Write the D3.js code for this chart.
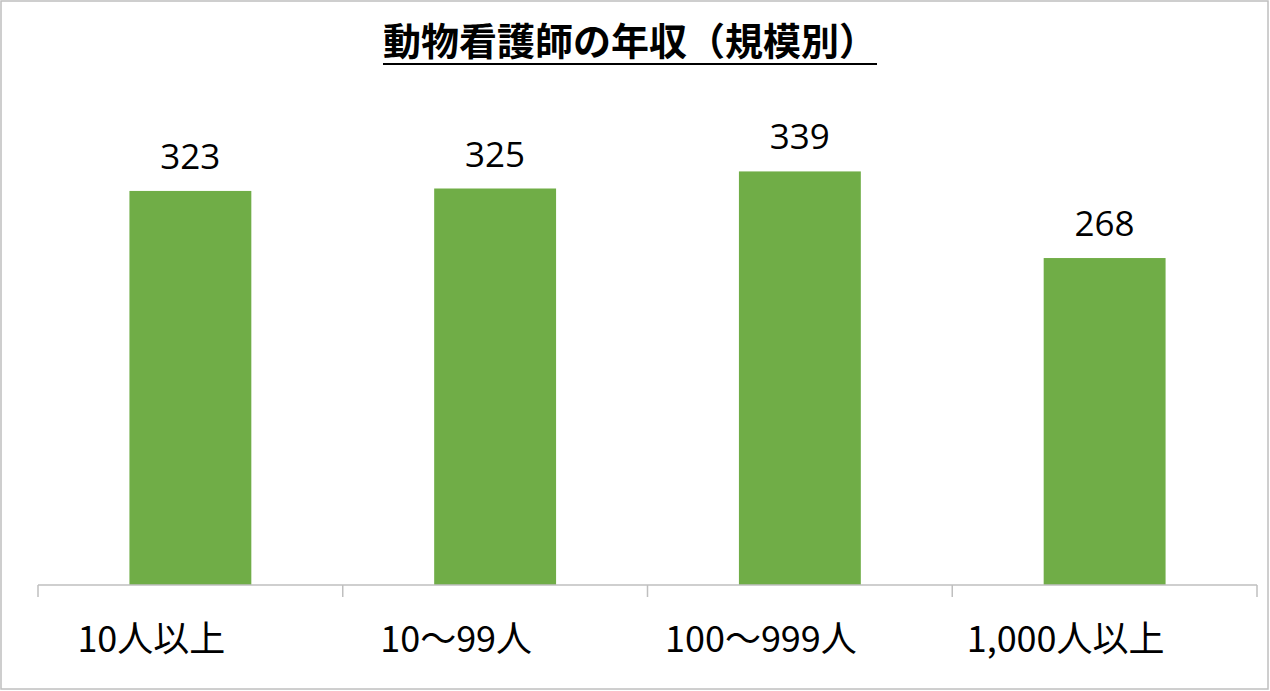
<!DOCTYPE html>
<html>
<head>
<meta charset="utf-8">
<script src="https://cdn.jsdelivr.net/npm/d3@7"></script>
<style>
  html, body { margin: 0; padding: 0; background: #fff; }
  svg { display: block; }
</style>
</head>
<body>
<div id="chart"></div>
<script>
// data
var categories = ["10人以上", "10～99人", "100～999人", "1,000人以上"];
var salaries = [323, 325, 339, 268];
var chartTitle = "動物看護師の年収（規模別）";

var svgWidth = 1270, svgHeight = 691;
var jpFont = "'Noto Sans CJK JP', 'Noto Sans', sans-serif";

var svg = d3.select("#chart").append("svg")
    .attr("width", svgWidth)
    .attr("height", svgHeight);

// outer frame
svg.append("rect")
    .attr("x", 1).attr("y", 1)
    .attr("width", svgWidth - 3).attr("height", svgHeight - 3)
    .attr("fill", "#fff")
    .attr("stroke", "#bfbfbf")
    .attr("stroke-width", 1.5);

// scales
var x = d3.scaleBand()
    .domain(categories)
    .range([38, 1257])
    .paddingInner(0)
    .paddingOuter(0);

var y = d3.scaleLinear()
    .domain([0, 400])
    .range([585, 97]);

var barWidth = x.bandwidth() * 0.4;

// bars
svg.selectAll("rect.bar")
    .data(salaries)
    .enter().append("rect")
    .attr("class", "bar")
    .attr("x", function(d, i) { return x(categories[i]) + (x.bandwidth() - barWidth) / 2; })
    .attr("y", function(d) { return y(d); })
    .attr("width", barWidth)
    .attr("height", function(d) { return y(0) - y(d); })
    .attr("fill", "#70ad47");

// value labels
svg.selectAll("text.val")
    .data(salaries)
    .enter().append("text")
    .attr("class", "val")
    .attr("x", function(d, i) { return x(categories[i]) + x.bandwidth() / 2; })
    .attr("y", function(d) { return y(d) - 22; })
    .attr("text-anchor", "middle")
    .attr("font-family", "'Open Sans', 'Noto Sans', sans-serif")
    .attr("font-size", 35)
    .attr("fill", "#000")
    .text(function(d) { return d; });

// x axis
var xAxis = d3.axisBottom(x).tickSize(0).tickPadding(0);
var gx = svg.append("g")
    .attr("transform", "translate(0," + y(0) + ")")
    .call(xAxis);
gx.select(".domain").attr("stroke", "#bfbfbf").attr("stroke-width", 1.5)
    .attr("d", "M38,0H1257");
// labels sit a little left of the band centre, like the original
gx.selectAll(".tick text")
    .attr("font-family", jpFont)
    .attr("font-size", 36)
    .attr("fill", "#000")
    .attr("x", -39)
    .attr("y", 67)
    .attr("dy", null);

// category separator ticks
var bounds = categories.map(function(c) { return x(c); }).concat([x.range()[1]]);
gx.selectAll("line.sep")
    .data(bounds)
    .enter().append("line")
    .attr("class", "sep")
    .attr("x1", function(d) { return d; })
    .attr("x2", function(d) { return d; })
    .attr("y1", 0).attr("y2", 12)
    .attr("stroke", "#bfbfbf")
    .attr("stroke-width", 1.5);

// title
var title = svg.append("text")
    .attr("x", 630)
    .attr("y", 55)
    .attr("text-anchor", "middle")
    .attr("font-family", jpFont)
    .attr("font-size", 38)
    .attr("font-weight", "bold")
    .attr("fill", "#000")
    .text(chartTitle);
var tb = title.node().getBBox();
svg.append("line")
    .attr("x1", tb.x).attr("x2", tb.x + tb.width)
    .attr("y1", 64).attr("y2", 64)
    .attr("stroke", "#000")
    .attr("stroke-width", 2);
</script>
</body>
</html>
